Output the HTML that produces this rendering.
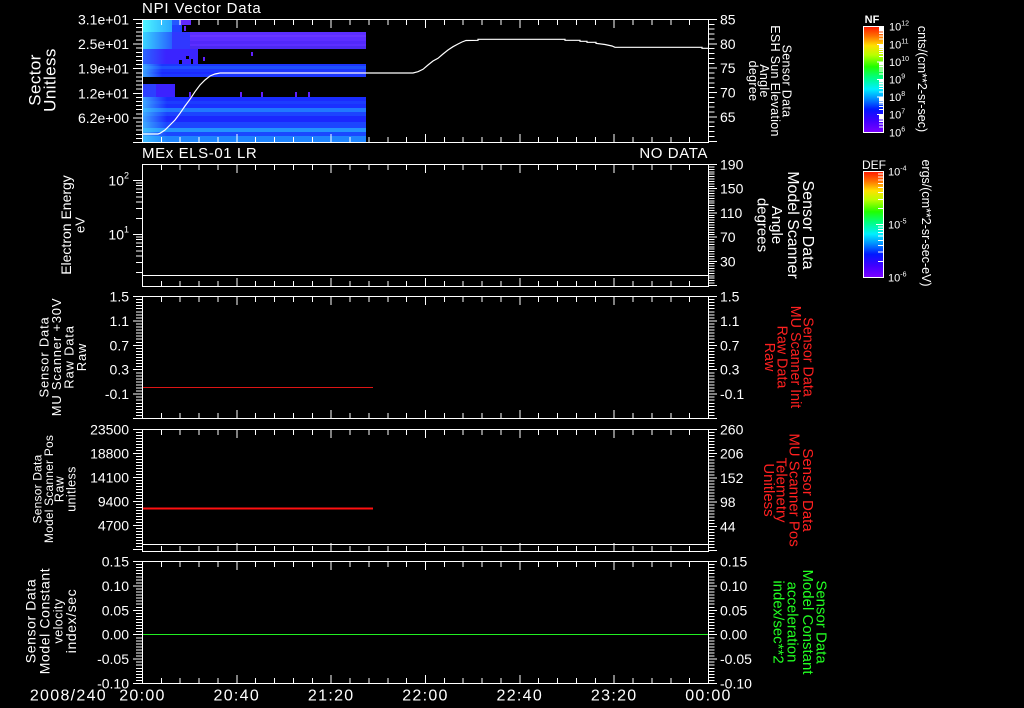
<!DOCTYPE html>
<html><head><meta charset="utf-8"><style>
html,body{margin:0;padding:0;background:#000;}
svg{display:block;}
text{font-family:"Liberation Sans",sans-serif;fill:#fff;dominant-baseline:central;}
.tl{font-size:14px;text-anchor:end;}
.tr{font-size:14px;text-anchor:start;}
.bl{font-size:16px;letter-spacing:1.3px;text-anchor:middle;}
.r{fill:#ff2020;}
.g{fill:#22ff22;}
</style></head><body>
<svg width="1024" height="708" viewBox="0 0 1024 708" xmlns="http://www.w3.org/2000/svg">
<defs>
<linearGradient id="rb" x1="0" y1="0" x2="0" y2="1">
<stop offset="0" stop-color="#ff1800"/>
<stop offset="0.09" stop-color="#ff7000"/>
<stop offset="0.18" stop-color="#ffe000"/>
<stop offset="0.27" stop-color="#b8ff00"/>
<stop offset="0.38" stop-color="#20ff00"/>
<stop offset="0.48" stop-color="#00ff80"/>
<stop offset="0.59" stop-color="#00f0ff"/>
<stop offset="0.68" stop-color="#0090ff"/>
<stop offset="0.78" stop-color="#0018ff"/>
<stop offset="0.89" stop-color="#4000ff"/>
<stop offset="1" stop-color="#7c00ff"/>
</linearGradient>
<linearGradient id="cyA" x1="0" y1="0" x2="1" y2="0"><stop offset="0" stop-color="#50f8ff"/><stop offset="1" stop-color="#28a8ff"/></linearGradient>
<linearGradient id="cyB" x1="0" y1="0" x2="1" y2="0"><stop offset="0" stop-color="#38d8ff"/><stop offset="1" stop-color="#2860ff"/></linearGradient>
<linearGradient id="cyC" x1="0" y1="0" x2="1" y2="0"><stop offset="0" stop-color="#2a68ff"/><stop offset="1" stop-color="#3a24ff"/></linearGradient>
<linearGradient id="fadeL" x1="0" y1="0" x2="1" y2="0"><stop offset="0" stop-color="#48d0ff" stop-opacity="0.75"/><stop offset="1" stop-color="#48d0ff" stop-opacity="0"/></linearGradient>
<g id="xt" fill="none" stroke="#fff">
<line x1="142" y1="3" x2="709.5" y2="3" stroke-width="6" stroke-dasharray="1 17.867"/>
<path stroke-width="1" d="M142.5 0v9M236.83 0v9M331.17 0v9M425.5 0v9M519.83 0v9M614.17 0v9M708.5 0v9"/>
</g>
<path id="tnf" stroke="#fff" d="M879 0.8h4M879 1.7h4M879 2.7h4M879 3.9h4M879 5.3h4M879 7h4M879 9.2h4M879 12.3h4"/>
<path id="tdef" stroke="#fff" d="M878 2.4h5M878 5.1h5M878 8.2h5M878 11.7h5M878 15.9h5M878 21h5M878 27.6h5M878 36.9h5"/>
</defs>

<!-- Spectrogram panel 1 -->
<g shape-rendering="crispEdges">
<rect x="142" y="20" width="30" height="5" fill="url(#cyA)"/>
<rect x="172" y="20" width="8" height="5" fill="#2458ff"/>
<rect x="180" y="20" width="11" height="5" fill="#6228ff"/>
<rect x="142" y="25" width="30" height="7" fill="url(#cyA)"/>
<rect x="172" y="25" width="10" height="7" fill="#2040ff"/>
<rect x="184" y="26" width="2" height="5" fill="#6a20ff"/>
<rect x="142" y="32" width="224" height="17" fill="#5c2eff"/>
<rect x="190" y="35" width="176" height="2" fill="#6836ff"/>
<rect x="190" y="41" width="176" height="3" fill="#5228fa"/>
<rect x="190" y="46" width="176" height="3" fill="#4c2af0"/>
<rect x="142" y="32" width="30" height="17" fill="url(#cyB)"/>
<rect x="172" y="32" width="18" height="17" fill="#3038ff"/>
<rect x="142" y="49" width="56" height="15" fill="#3a24ff"/>
<rect x="142" y="49" width="24" height="15" fill="url(#cyC)"/>
<rect x="186" y="56" width="3" height="3" fill="#000"/>
<rect x="191" y="59" width="2" height="5" fill="#000"/>
<rect x="179" y="60" width="3" height="4" fill="#000"/>
<rect x="203" y="57" width="2" height="4" fill="#6020ff"/>
<rect x="251" y="52" width="2" height="4" fill="#6020ff"/>
<rect x="142" y="64" width="224" height="13" fill="#1c36ff"/>
<rect x="142" y="66" width="224" height="3" fill="#1e50ff"/>
<rect x="142" y="72" width="224" height="2" fill="#1a2aff"/>
<rect x="142" y="64" width="20" height="13" fill="url(#fadeL)"/>
<rect x="142" y="84" width="33" height="13" fill="#3c22ff"/>
<rect x="142" y="84" width="14" height="13" fill="#2c40ff"/>
<rect x="189" y="92" width="2" height="5" fill="#6020ff"/>
<rect x="240" y="92" width="2" height="5" fill="#6020ff"/>
<rect x="261" y="92" width="2" height="5" fill="#6020ff"/>
<rect x="295" y="92" width="2" height="5" fill="#6020ff"/>
<rect x="308" y="92" width="2" height="5" fill="#6020ff"/>
<rect x="142" y="97" width="224" height="39" fill="#1a2cff"/>
<rect x="142" y="101" width="224" height="3" fill="#1c3cff"/>
<rect x="142" y="104" width="224" height="4" fill="#1a30ff"/>
<rect x="142" y="108" width="224" height="4" fill="#2078ff"/>
<rect x="142" y="112" width="224" height="4" fill="#1c44ff"/>
<rect x="142" y="116" width="224" height="6" fill="#1a28ff"/>
<rect x="142" y="122" width="224" height="6" fill="#1c46ff"/>
<rect x="142" y="128" width="224" height="4" fill="#2494ff"/>
<rect x="142" y="132" width="224" height="4" fill="#1a48ff"/>
<rect x="142" y="97" width="25" height="39" fill="url(#fadeL)"/>
<rect x="142" y="136" width="224" height="6" fill="#1e84ff"/>
<rect x="142" y="136" width="25" height="6" fill="url(#fadeL)"/>
</g>

<!-- Data lines -->
<polyline fill="none" stroke="#fff" stroke-width="1.2" points="142,134 158,134 160,133.3 165,130 170,125 175,120 180,113.3 185,106 190,99.3 195,91.7 200,85 205,80 210,76 215,74 220,73 413,73 418,71.7 423,69.3 428,65 433,61 438,58.3 443,54 448,50 453,46.7 458,44 462,42 466,40.5 478,40.3 478,39.3 565,39.3 565,40.3 580,40.3 580,41.3 587,41.3 587,42.3 596,42.3 596,43.3 605,44.5 612,46 615,47.3 702,47.3 702,48.3 708,48.3"/>
<g shape-rendering="crispEdges">
<line x1="142" y1="275.5" x2="708" y2="275.5" stroke="#fff"/>
<line x1="142" y1="387.5" x2="373" y2="387.5" stroke="#dd1515"/>
<line x1="142" y1="508.5" x2="373" y2="508.5" stroke="#ff1010" stroke-width="2"/>
<line x1="142" y1="544.5" x2="708" y2="544.5" stroke="#fff"/>
<line x1="142" y1="634.5" x2="708" y2="634.5" stroke="#22ee22"/>
</g>

<!-- Axes -->
<g shape-rendering="crispEdges" fill="none" stroke="#fff">
<rect x="142.5" y="19.5" width="566" height="123"/>
<rect x="142.5" y="164.5" width="566" height="122"/>
<rect x="142.5" y="296.5" width="566" height="122"/>
<rect x="142.5" y="429.5" width="566" height="122"/>
<rect x="142.5" y="561.5" width="566" height="122"/>
<use href="#xt" transform="translate(0,19)"/>
<use href="#xt" transform="translate(0,143) scale(1,-1)"/>
<use href="#xt" transform="translate(0,164)"/>
<use href="#xt" transform="translate(0,287) scale(1,-1)"/>
<use href="#xt" transform="translate(0,296)"/>
<use href="#xt" transform="translate(0,419) scale(1,-1)"/>
<use href="#xt" transform="translate(0,429)"/>
<use href="#xt" transform="translate(0,552) scale(1,-1)"/>
<use href="#xt" transform="translate(0,561)"/>
<use href="#xt" transform="translate(0,684) scale(1,-1)"/>

<!-- P1 y ticks -->
<line x1="139" y1="19" x2="139" y2="143.5" stroke-width="6" stroke-dasharray="1 3.1"/>
<path d="M133 19.5h9M133 44.1h9M133 68.7h9M133 93.3h9M133 117.9h9M133 142.5h9"/>
<line x1="711.5" y1="19" x2="711.5" y2="143" stroke-width="6" stroke-dasharray="1 3.87"/>
<path d="M708.5 19.5h8.5M708.5 43.9h8.5M708.5 68.2h8.5M708.5 92.6h8.5M708.5 116.9h8.5M708.5 141.3h8.5"/>
<!-- P2 -->
<path d="M136 183h6.5M136 185.7h6.5M136 188.9h6.5M136 192.5h6.5M136 196.75h6.5M136 202h6.5M136 208.74h6.5M136 218.25h6.5M136 237h6.5M136 239.7h6.5M136 242.9h6.5M136 246.5h6.5M136 250.75h6.5M136 256h6.5M136 262.74h6.5M136 272.25h6.5M133 180.5h9.5M133 234.5h9.5"/>
<line x1="711.5" y1="164" x2="711.5" y2="287" stroke-width="6" stroke-dasharray="1 1.42"/>
<path d="M708.5 164.5h8.5M708.5 188.7h8.5M708.5 212.9h8.5M708.5 237.1h8.5M708.5 261.3h8.5M708.5 285.5h8.5"/>
<!-- P3 -->
<line x1="139" y1="296" x2="139" y2="419" stroke-width="6" stroke-dasharray="1 2.05"/>
<path d="M133 296.5h9M133 320.9h9M133 345.3h9M133 369.7h9M133 394.1h9M133 418.5h9"/>
<line x1="711.5" y1="296" x2="711.5" y2="419" stroke-width="6" stroke-dasharray="1 2.05"/>
<path d="M708.5 296.5h8.5M708.5 320.9h8.5M708.5 345.3h8.5M708.5 369.7h8.5M708.5 394.1h8.5M708.5 418.5h8.5"/>
<!-- P4 -->
<line x1="139" y1="429" x2="139" y2="552" stroke-width="6" stroke-dasharray="1 2"/>
<path d="M133 429.5h9M133 453.5h9M133 477.5h9M133 501.5h9M133 525.5h9M133 549.5h9"/>
<line x1="711.5" y1="429" x2="711.5" y2="552" stroke-width="6" stroke-dasharray="1 2.025"/>
<path d="M708.5 429.5h8.5M708.5 453.7h8.5M708.5 477.9h8.5M708.5 502.1h8.5M708.5 526.3h8.5M708.5 550.5h8.5"/>
<!-- P5 -->
<line x1="139" y1="561" x2="139" y2="684" stroke-width="6" stroke-dasharray="1 2.05"/>
<path d="M133 561.5h9M133 585.9h9M133 610.3h9M133 634.7h9M133 659.1h9M133 683.5h9"/>
<line x1="711.5" y1="561" x2="711.5" y2="684" stroke-width="6" stroke-dasharray="1 2.05"/>
<path d="M708.5 561.5h8.5M708.5 585.9h8.5M708.5 610.3h8.5M708.5 634.7h8.5M708.5 659.1h8.5M708.5 683.5h8.5"/>
</g>

<!-- Colorbars -->
<g shape-rendering="crispEdges">
<rect x="863.5" y="26.5" width="20" height="106" fill="url(#rb)" stroke="#fff"/>
<use href="#tnf" transform="translate(0,26.7)"/>
<use href="#tnf" transform="translate(0,44.3)"/>
<use href="#tnf" transform="translate(0,61.9)"/>
<use href="#tnf" transform="translate(0,79.5)"/>
<use href="#tnf" transform="translate(0,97.1)"/>
<use href="#tnf" transform="translate(0,114.7)"/>
<path stroke="#fff" d="M877 44.3h6M877 61.9h6M877 79.5h6M877 97.1h6M877 114.7h6"/>
<rect x="863.5" y="171.5" width="20" height="106" fill="url(#rb)" stroke="#fff"/>
<use href="#tdef" transform="translate(0,171.7)"/>
<use href="#tdef" transform="translate(0,224.5)"/>
<path stroke="#fff" d="M876 224.5h7"/>
</g>
<text x="872" y="20" font-size="11" text-anchor="middle" font-weight="bold">NF</text>
<text x="874" y="165" font-size="12" text-anchor="middle">DEF</text>
<g font-size="11">
<text x="889" y="27.7">10<tspan dy="-4" font-size="7">12</tspan></text>
<text x="889" y="45.3">10<tspan dy="-4" font-size="7">11</tspan></text>
<text x="889" y="62.9">10<tspan dy="-4" font-size="7">10</tspan></text>
<text x="889" y="80.5">10<tspan dy="-4" font-size="7">9</tspan></text>
<text x="889" y="98.1">10<tspan dy="-4" font-size="7">8</tspan></text>
<text x="889" y="115.7">10<tspan dy="-4" font-size="7">7</tspan></text>
<text x="889" y="133.3">10<tspan dy="-4" font-size="7">6</tspan></text>
<text x="888" y="172.7">10<tspan dy="-4" font-size="7">-4</tspan></text>
<text x="888" y="225.5">10<tspan dy="-4" font-size="7">-5</tspan></text>
<text x="888" y="278.3">10<tspan dy="-4" font-size="7">-6</tspan></text>
</g>
<text transform="translate(922,79) rotate(90)" font-size="12.5" text-anchor="middle">cnts/(cm**2-sr-sec)</text>
<text transform="translate(926,223) rotate(90)" font-size="12.5" text-anchor="middle">ergs/(cm**2-sr-sec-eV)</text>

<!-- Titles -->
<text x="142" y="8.5" font-size="15" letter-spacing="0.8">NPI Vector Data</text>
<text x="142" y="153.5" font-size="15" letter-spacing="0.6">MEx ELS-01 LR</text>
<text x="708" y="153.5" font-size="15" letter-spacing="0.6" text-anchor="end">NO DATA</text>

<!-- Left tick labels -->
<text class="tl" x="129" y="19.5">3.1e+01</text>
<text class="tl" x="129" y="44.1">2.5e+01</text>
<text class="tl" x="129" y="68.7">1.9e+01</text>
<text class="tl" x="129" y="93.3">1.2e+01</text>
<text class="tl" x="129" y="117.9">6.2e+00</text>
<text class="tl" x="129" y="180.5">10<tspan dy="-5" font-size="9">2</tspan></text>
<text class="tl" x="129" y="234.5">10<tspan dy="-5" font-size="9">1</tspan></text>
<text class="tl" x="129" y="296.5">1.5</text>
<text class="tl" x="129" y="320.9">1.1</text>
<text class="tl" x="129" y="345.3">0.7</text>
<text class="tl" x="129" y="369.7">0.3</text>
<text class="tl" x="129" y="394.1">-0.1</text>
<text class="tl" x="129" y="429.5">23500</text>
<text class="tl" x="129" y="453.5">18800</text>
<text class="tl" x="129" y="477.5">14100</text>
<text class="tl" x="129" y="501.5">9400</text>
<text class="tl" x="129" y="525.5">4700</text>
<text class="tl" x="129" y="561.5">0.15</text>
<text class="tl" x="129" y="585.9">0.10</text>
<text class="tl" x="129" y="610.3">0.05</text>
<text class="tl" x="129" y="634.7">0.00</text>
<text class="tl" x="129" y="659.1">-0.05</text>
<text class="tl" x="129" y="683.5">-0.10</text>

<!-- Right tick labels -->
<text class="tr" x="720" y="19.5">85</text>
<text class="tr" x="720" y="43.9">80</text>
<text class="tr" x="720" y="68.2">75</text>
<text class="tr" x="720" y="92.6">70</text>
<text class="tr" x="720" y="116.9">65</text>
<text class="tr" x="720" y="164.5">190</text>
<text class="tr" x="720" y="188.7">150</text>
<text class="tr" x="720" y="212.9">110</text>
<text class="tr" x="720" y="237.1">70</text>
<text class="tr" x="720" y="261.3">30</text>
<text class="tr" x="720" y="296.5">1.5</text>
<text class="tr" x="720" y="320.9">1.1</text>
<text class="tr" x="720" y="345.3">0.7</text>
<text class="tr" x="720" y="369.7">0.3</text>
<text class="tr" x="720" y="394.1">-0.1</text>
<text class="tr" x="720" y="429.5">260</text>
<text class="tr" x="720" y="453.7">206</text>
<text class="tr" x="720" y="477.9">152</text>
<text class="tr" x="720" y="502.1">98</text>
<text class="tr" x="720" y="526.3">44</text>
<text class="tr" x="720" y="561.5">0.15</text>
<text class="tr" x="720" y="585.9">0.10</text>
<text class="tr" x="720" y="610.3">0.05</text>
<text class="tr" x="720" y="634.7">0.00</text>
<text class="tr" x="720" y="659.1">-0.05</text>
<text class="tr" x="720" y="683.5">-0.10</text>

<!-- Left axis titles -->
<g text-anchor="middle">
<text transform="translate(35,80) rotate(-90)" font-size="17" letter-spacing="0.4">Sector</text>
<text transform="translate(50,80) rotate(-90)" font-size="17" letter-spacing="0.4">Unitless</text>
<text transform="translate(66,225) rotate(-90)" font-size="14">Electron Energy</text>
<text transform="translate(80,225) rotate(-90)" font-size="13">eV</text>
<text transform="translate(44,357) rotate(-90)" font-size="13" letter-spacing="0.8">Sensor Data</text>
<text transform="translate(56.5,357) rotate(-90)" font-size="13" letter-spacing="0.8">MU Scanner +30V</text>
<text transform="translate(69,357) rotate(-90)" font-size="13" letter-spacing="0.8">Raw Data</text>
<text transform="translate(81.5,357) rotate(-90)" font-size="13" letter-spacing="0.8">Raw</text>
<text transform="translate(37.7,489) rotate(-90)" font-size="12" letter-spacing="0.2">Sensor Data</text>
<text transform="translate(49,489) rotate(-90)" font-size="12" letter-spacing="0.2">Model Scanner Pos</text>
<text transform="translate(59.7,489) rotate(-90)" font-size="12.5" letter-spacing="0.4">Raw</text>
<text transform="translate(71.7,489) rotate(-90)" font-size="12.5" letter-spacing="0.4">unitless</text>
<text transform="translate(30.5,621) rotate(-90)" font-size="14" letter-spacing="0.6">Sensor Data</text>
<text transform="translate(44.7,621) rotate(-90)" font-size="14" letter-spacing="0.6">Model Constant</text>
<text transform="translate(58.7,621) rotate(-90)" font-size="12.5" letter-spacing="0.4">velocity</text>
<text transform="translate(71,621) rotate(-90)" font-size="14" letter-spacing="0.6">index/sec</text>
</g>

<!-- Right axis titles -->
<g text-anchor="middle">
<text transform="translate(786.7,81) rotate(90)" font-size="12.5" letter-spacing="0.3">Sensor Data</text>
<text transform="translate(775,81) rotate(90)" font-size="12.5" letter-spacing="0.3">ESH Sun Elevation</text>
<text transform="translate(764,81) rotate(90)" font-size="12.5" letter-spacing="0.3">Angle</text>
<text transform="translate(753,81) rotate(90)" font-size="12.5" letter-spacing="0.3">degree</text>
<text transform="translate(807.5,225) rotate(90)" font-size="16">Sensor Data</text>
<text transform="translate(792.5,225) rotate(90)" font-size="16">Model Scanner</text>
<text transform="translate(776.7,225) rotate(90)" font-size="15">Angle</text>
<text transform="translate(762,225) rotate(90)" font-size="15">degrees</text>
<text class="r" transform="translate(807.5,357) rotate(90)" font-size="14.3">Sensor Data</text>
<text class="r" transform="translate(795,357) rotate(90)" font-size="14.3">MU Scanner Init</text>
<text class="r" transform="translate(781.7,357) rotate(90)" font-size="14.3">Raw Data</text>
<text class="r" transform="translate(769,357) rotate(90)" font-size="14.3">Raw</text>
<text class="r" transform="translate(807.5,490) rotate(90)" font-size="15">Sensor Data</text>
<text class="r" transform="translate(794,490) rotate(90)" font-size="15">MU Scanner Pos</text>
<text class="r" transform="translate(780.8,490) rotate(90)" font-size="15">Telemetry</text>
<text class="r" transform="translate(768.3,490) rotate(90)" font-size="15">Unitless</text>
<text class="g" transform="translate(820.8,622) rotate(90)" font-size="15">Sensor Data</text>
<text class="g" transform="translate(807.5,622) rotate(90)" font-size="15">Model Constant</text>
<text class="g" transform="translate(792,622) rotate(90)" font-size="15">acceleration</text>
<text class="g" transform="translate(778,622) rotate(90)" font-size="15">index/sec**2</text>
</g>

<!-- Bottom time labels -->
<text x="107" y="696" font-size="16" letter-spacing="1.3" text-anchor="end">2008/240</text>
<text class="bl" x="142.5" y="696">20:00</text>
<text class="bl" x="236.8" y="696">20:40</text>
<text class="bl" x="331.2" y="696">21:20</text>
<text class="bl" x="425.5" y="696">22:00</text>
<text class="bl" x="519.8" y="696">22:40</text>
<text class="bl" x="614.2" y="696">23:20</text>
<text class="bl" x="708.5" y="696">00:00</text>
</svg>
</body></html>
